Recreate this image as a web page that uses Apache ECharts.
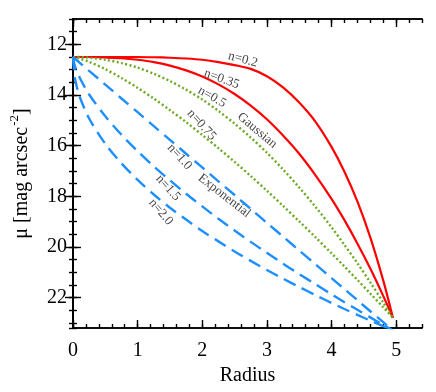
<!DOCTYPE html>
<html>
<head>
<meta charset="utf-8">
<script src="https://cdn.jsdelivr.net/npm/echarts@6/dist/echarts.min.js"></script>
<style>html,body{margin:0;padding:0;background:#fff;}#c{width:436px;height:392px;}</style>
</head>
<body>
<div id="c"></div>
<script>
// Radius sample positions
var radius = [0, 0.03, 0.1, 0.25, 0.5, 0.75, 1.0, 1.25, 1.5, 1.75, 2.0, 2.25, 2.5, 2.75, 3.0, 3.25, 3.5, 3.75, 4.0, 4.2, 4.4, 4.6, 4.8, 4.95];
// surface brightness
var mu_n020 = [12.5,12.5,12.5,12.5,12.5,12.5,12.5,12.51,12.53,12.56,12.61,12.7,12.82,12.97,13.26,13.7,14.3,15.05,16.05,17.03,18.2,19.62,21.32,22.8];
var mu_n035 = [12.5,12.5,12.5,12.5,12.52,12.55,12.61,12.7,12.84,13.03,13.27,13.58,13.96,14.42,14.96,15.6,16.32,17.16,18.1,18.94,19.86,20.85,21.93,22.8];
var mu_n050 = [12.5,12.5,12.5,12.53,12.61,12.74,12.92,13.16,13.45,13.79,14.18,14.63,15.13,15.68,16.28,16.94,17.65,18.41,19.22,19.92,20.64,21.4,22.19,22.8];
var mu_n075 = [12.5,12.51,12.56,12.69,12.98,13.33,13.72,14.14,14.6,15.07,15.58,16.1,16.64,17.2,17.78,18.38,18.99,19.61,20.25,20.77,21.3,21.84,22.38,22.8];
var mu_n100 = [12.5,12.57,12.72,13.05,13.59,14.14,14.68,15.23,15.77,16.32,16.86,17.41,17.95,18.5,19.05,19.59,20.14,20.68,21.23,21.66,22.1,22.54,22.97,23.3];
var mu_n150 = [12.5,12.86,13.3,13.98,14.84,15.57,16.22,16.82,17.37,17.9,18.4,18.89,19.35,19.8,20.23,20.66,21.07,21.47,21.87,22.18,22.48,22.78,23.08,23.3];
var mu_n200 = [12.5,13.34,14.04,14.93,15.93,16.7,17.35,17.93,18.45,18.92,19.37,19.78,20.18,20.55,20.91,21.25,21.58,21.9,22.21,22.45,22.68,22.91,23.13,23.3];

// tick labels
var xTicks = [0, 1, 2, 3, 4, 5];
var yTicks = [12, 14, 16, 18, 20, 22];

// curve annotations
var labelTexts = ['n=0.2', 'n=0.35', 'n=0.5', 'Gaussian', 'n=0.75', 'n=1.0', 'Exponential', 'n=1.5', 'n=2.0'];
var labelR = [2.63, 2.30, 2.15, 2.85, 1.99, 1.65, 2.34, 1.47, 1.36];
var labelMu = [12.6, 13.37, 14.08, 15.4, 15.18, 16.44, 17.98, 17.67, 18.62];
var labelAngle = [-15, -20, -30, -40, -48, -48, -38, -48, -50];

function pairs(ys) { return radius.map(function (r, i) { return [r, ys[i]]; }); }

var RED = '#ff0000', GREEN = '#6aaa22', BLUE = '#1e8fff';
var FONT = '"Liberation Serif", "DejaVu Serif", serif';
var XMIN = 0, XMAX = 5.4, YMIN = 11, YMAX = 23.2;

function xAx(pos, major, showLabel, name) {
  var a = {
    type: 'value', position: pos, min: XMIN, max: XMAX,
    axisLine: { show: true, lineStyle: { color: '#000', width: 1.6 } },
    splitLine: { show: false },
    axisTick: { show: true, inside: true, length: major ? 8 : 4, lineStyle: { color: '#000', width: 1.4 } },
    axisLabel: { show: false }
  };
  if (major) {
    a.axisTick.customValues = xTicks;
    a.axisLabel = { show: showLabel, customValues: xTicks, margin: 13, color: '#000', fontSize: 20, fontFamily: FONT };
  } else {
    a.interval = 0.2;
  }
  if (name) {
    a.name = name; a.nameLocation = 'middle'; a.nameGap = 35;
    a.nameTextStyle = { color: '#000', fontSize: 20, fontFamily: FONT };
  }
  return a;
}
function yAx(pos, major, showLabel, name) {
  var a = {
    type: 'value', position: pos, min: YMIN, max: YMAX, inverse: true,
    axisLine: { show: true, lineStyle: { color: '#000', width: 1.6 } },
    splitLine: { show: false },
    axisTick: { show: true, inside: true, length: major ? 8 : 4, lineStyle: { color: '#000', width: 1.4 } },
    axisLabel: { show: false }
  };
  if (major) {
    a.axisTick.customValues = yTicks;
    a.axisLabel = { show: showLabel, customValues: yTicks, margin: 6, color: '#000', fontSize: 20, fontFamily: FONT };
  } else {
    a.interval = 0.5;
  }
  if (name) {
    a.name = '{a|μ [mag arcsec}{s|-2}{a|]}';
    a.nameLocation = 'middle'; a.nameGap = 41; a.nameRotate = 90;
    a.nameTextStyle = {
      color: '#000', fontFamily: FONT,
      rich: {
        a: { fontSize: 20, fontFamily: FONT, color: '#000', lineHeight: 24, verticalAlign: 'bottom' },
        s: { fontSize: 13, fontFamily: FONT, color: '#000', lineHeight: 24, verticalAlign: 'top', padding: [0, 0, 0, 1] }
      }
    };
  }
  return a;
}

function lineSeries(name, ys, color, type, width) {
  return {
    name: name, type: 'line', xAxisIndex: 0, yAxisIndex: 0,
    data: pairs(ys), showSymbol: false, symbol: 'none', smooth: 0.3, clip: true,
    lineStyle: { color: color, width: width, type: type, cap: 'butt' },
    silent: true, animation: false
  };
}

var labelData = labelTexts.map(function (t, i) {
  return { name: t, value: [labelR[i], labelMu[i]], label: { rotate: labelAngle[i] } };
});

var chart = echarts.init(document.getElementById('c'), null, { renderer: 'canvas' });
chart.setOption({
  animation: false,
  backgroundColor: '#fff',
  grid: { left: 69, right: 14, top: 19, bottom: 64, containLabel: false },
  xAxis: [xAx('bottom', true, true, 'Radius'), xAx('bottom', false, false), xAx('top', true, false), xAx('top', false, false)],
  yAxis: [yAx('left', true, true, 'mu'), yAx('left', false, false), yAx('right', true, false), yAx('right', false, false)],
  series: [
    lineSeries('n=0.2', mu_n020, RED, 'solid', 2.2),
    lineSeries('n=0.35', mu_n035, RED, 'solid', 2.2),
    lineSeries('n=0.5', mu_n050, GREEN, [2, 2.4], 2.4),
    lineSeries('n=0.75', mu_n075, GREEN, [2, 2.4], 2.4),
    lineSeries('n=1.0', mu_n100, BLUE, [13, 7], 2.4),
    lineSeries('n=1.5', mu_n150, BLUE, [13, 7], 2.4),
    lineSeries('n=2.0', mu_n200, BLUE, [13, 7], 2.4),
    {
      type: 'scatter', xAxisIndex: 0, yAxisIndex: 0, symbolSize: 0, silent: true,
      data: labelData,
      label: {
        show: true, position: 'inside', formatter: '{b}', color: '#111',
        fontSize: 13, fontFamily: FONT, align: 'center', verticalAlign: 'middle'
      }
    }
  ]
});
</script>
</body>
</html>
